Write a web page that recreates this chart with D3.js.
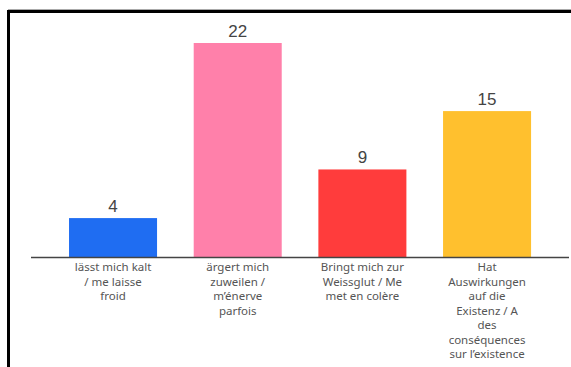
<!DOCTYPE html>
<html>
<head>
<meta charset="utf-8">
<script src="https://cdn.jsdelivr.net/npm/d3@7"></script>
<style>
  body { margin: 0; background: #fff; }
  svg { display: block; }
</style>
</head>
<body>
<div id="chart"></div>
<script>
// Data
const categories = ['kalt', 'zuweilen', 'weissglut', 'existenz'];
const values = [4, 22, 9, 15];
const colors = ['#1f6df2', '#ff80aa', '#ff3c3c', '#ffc02e'];
const labelLines = [
    ['lässt mich kalt', '/ me laisse', 'froid'],
    ['ärgert mich', 'zuweilen /', 'm\u2019énerve', 'parfois'],
    ['Bringt mich zur', 'Weissglut / Me', 'met en colère'],
    ['Hat', 'Auswirkungen', 'auf die', 'Existenz / A', 'des', 'conséquences', 'sur l\u2019existence']
];

const width = 571, height = 367;
const baseline = 257;

const svg = d3.select('#chart')
    .append('svg')
    .attr('width', width)
    .attr('height', height);

// frame
svg.append('line')
    .attr('x1', 8).attr('x2', width + 5)
    .attr('y1', 9.5).attr('y2', 9.5)
    .attr('stroke', '#aaa').attr('stroke-width', 1);
svg.append('rect')
    .attr('x', 8.5).attr('y', 11.5)
    .attr('width', width + 20).attr('height', height + 20)
    .attr('fill', 'none')
    .attr('stroke', '#000')
    .attr('stroke-width', 3);

const x = d3.scaleBand()
    .domain(categories)
    .range([50.7, 549.4])
    .paddingInner(0.294)
    .paddingOuter(0.147);

const y = d3.scaleLinear()
    .domain([0, 22])
    .range([baseline, 43]);

const data = categories.map((c, i) => ({ cat: c, value: values[i], color: colors[i], lines: labelLines[i] }));

svg.selectAll('.bar')
    .data(data)
    .enter()
    .append('rect')
    .attr('class', 'bar')
    .attr('x', d => x(d.cat))
    .attr('width', x.bandwidth())
    .attr('y', d => y(d.value))
    .attr('height', d => baseline - y(d.value))
    .attr('fill', d => d.color);

// value labels
svg.selectAll('.val')
    .data(data)
    .enter()
    .append('text')
    .attr('class', 'val')
    .attr('x', d => x(d.cat) + x.bandwidth() / 2)
    .attr('y', d => y(d.value) - 6)
    .attr('text-anchor', 'middle')
    .attr('font-family', 'Liberation Sans, Arial, sans-serif')
    .attr('font-size', 17)
    .attr('fill', '#444')
    .text(d => d.value);

// axis line
svg.append('line')
    .attr('x1', 31).attr('x2', 569)
    .attr('y1', baseline + 0.5).attr('y2', baseline + 0.5)
    .attr('stroke', '#444')
    .attr('stroke-width', 1.5);

// category labels
const labels = svg.selectAll('.cat')
    .data(data)
    .enter()
    .append('text')
    .attr('class', 'cat')
    .attr('text-anchor', 'middle')
    .attr('font-family', 'Noto Sans, sans-serif')
    .attr('font-size', 11.5)
    .attr('fill', '#555');

labels.selectAll('tspan')
    .data(d => d.lines.map(l => ({ line: l, cx: x(d.cat) + x.bandwidth() / 2 })))
    .enter()
    .append('tspan')
    .attr('x', d => d.cx)
    .attr('y', (d, i) => 271 + i * 14.5)
    .text(d => d.line);
</script>
</body>
</html>
